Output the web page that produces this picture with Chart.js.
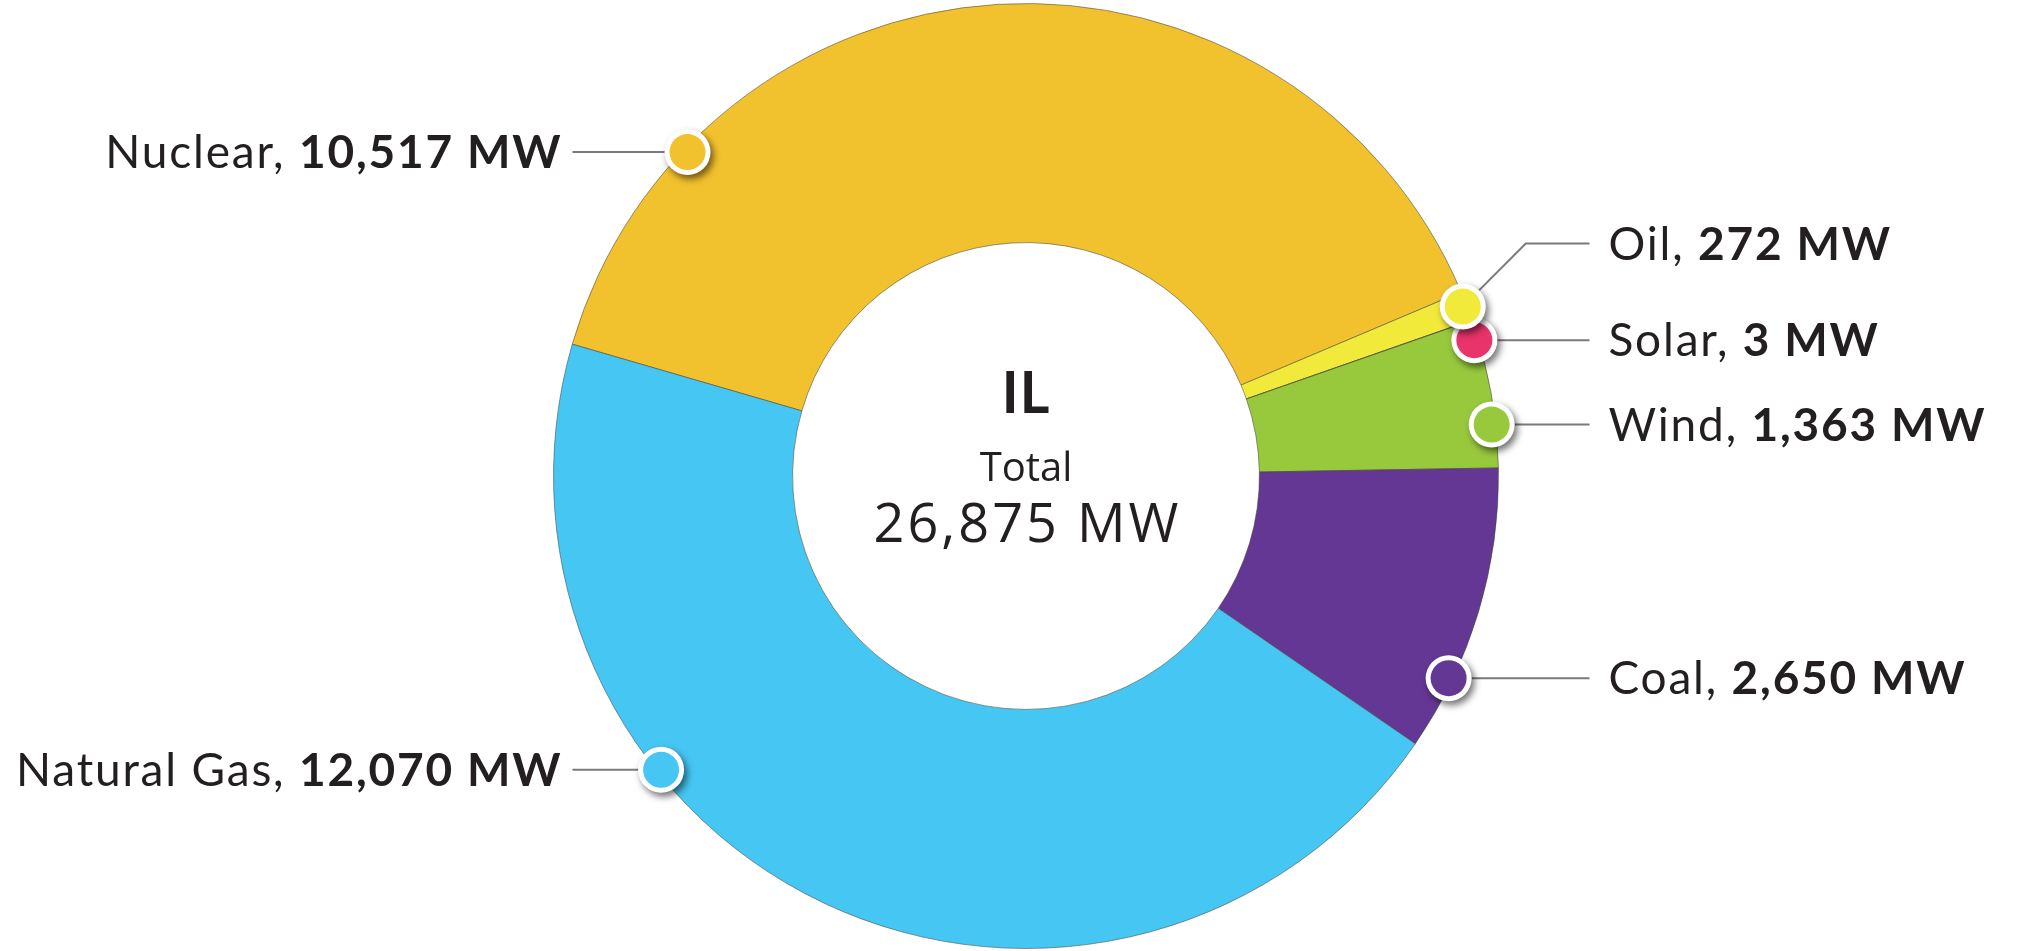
<!DOCTYPE html>
<html>
<head>
<meta charset="utf-8">
<title>IL generating capacity</title>
<script src="https://cdn.jsdelivr.net/npm/chart.js@4.4.1/dist/chart.umd.min.js"></script>
<style>
    html, body { margin: 0; padding: 0; background: #fff; }
    #wrap { width: 2018px; height: 951px; position: relative; }
</style>
</head>
<body>
<div id="wrap"><canvas id="capacityChart"></canvas></div>
<script>
// Data
const stateName = 'IL';
const categories = ['Nuclear', 'Oil', 'Solar', 'Wind', 'Coal', 'Natural Gas'];
const capacityMW = [10517, 272, 3, 1363, 2650, 12070];
const sliceColors = ['#F2C12E', '#F2EA3B', '#E8336B', '#98C93D', '#643794', '#46C6F2'];

const totalMW = capacityMW.reduce((a, b) => a + b, 0);
const fmt = n => n.toLocaleString('en-US');

const TEXT = '#231F20';
const LABEL_FONT = 'Lato';

// Callout markers, labels and leader lines
const calloutPlugin = {
    id: 'callouts',
    afterDatasetsDraw(chart, args, opts) {
        const ctx = chart.ctx;
        const arcs = chart.getDatasetMeta(0).data;
        const items = arcs.map((arc, i) => {
            const p = arc.getProps(['x', 'y', 'startAngle', 'endAngle', 'outerRadius'], true);
            const ang = (p.startAngle + p.endAngle) / 2 + opts.nudge[i] * Math.PI / 180;
            const r = p.outerRadius - opts.inset;
            const mx = p.x + Math.cos(ang) * r;
            const my = p.y + Math.sin(ang) * r;
            const right = Math.cos(ang) > 0;
            const ly = my + opts.lift[i];
            return { i, p, mx, my, ly, right };
        });

        // leader lines
        ctx.save();
        ctx.strokeStyle = '#7a7a7a';
        ctx.lineWidth = 2;
        items.forEach(it => {
            const { p, mx, my, ly, right } = it;
            ctx.beginPath();
            ctx.moveTo(mx, my);
            if (right) {
                const endX = p.x + p.outerRadius + opts.lineRight;
                if (ly !== my) ctx.lineTo(mx + Math.abs(ly - my), ly);
                ctx.lineTo(endX, ly);
            } else {
                const endX = p.x - p.outerRadius + opts.lineLeft;
                ctx.lineTo(endX, ly);
            }
            ctx.stroke();
        });
        ctx.restore();

        // markers (drawn last-to-first so earlier slices sit on top)
        items.slice().reverse().forEach(it => {
            ctx.save();
            ctx.shadowColor = 'rgba(0,0,0,0.55)';
            ctx.shadowBlur = 7;
            ctx.shadowOffsetX = 3;
            ctx.shadowOffsetY = 4;
            ctx.fillStyle = '#fff';
            ctx.beginPath();
            ctx.arc(it.mx, it.my, 23, 0, Math.PI * 2);
            ctx.fill();
            ctx.restore();
            ctx.save();
            ctx.fillStyle = sliceColors[it.i];
            ctx.beginPath();
            ctx.arc(it.mx, it.my, 18, 0, Math.PI * 2);
            ctx.fill();
            ctx.restore();
        });

        // labels: "Name, " regular + "value MW" bold
        ctx.save();
        ctx.fillStyle = TEXT;
        ctx.textBaseline = 'alphabetic';
        ctx.textAlign = 'left';
        ctx.letterSpacing = opts.tracking + 'px';
        const regFont = `400 ${opts.fontSize}px ${LABEL_FONT}`;
        const boldFont = `700 ${opts.fontSize}px ${LABEL_FONT}`;
        items.forEach(it => {
            const a = categories[it.i] + ', ';
            const b = fmt(capacityMW[it.i]) + ' MW';
            ctx.font = regFont;
            const wa = ctx.measureText(a).width;
            ctx.font = boldFont;
            const wb = ctx.measureText(b).width - opts.tracking;
            const base = it.ly + opts.capHalf;
            let x;
            if (it.right) {
                x = it.p.x + it.p.outerRadius + opts.textRight;
            } else {
                x = it.p.x - it.p.outerRadius + opts.textLeft - wa - wb;
            }
            ctx.font = regFont;
            ctx.fillText(a, x, base);
            ctx.font = boldFont;
            ctx.fillText(b, x + wa, base);
        });
        ctx.restore();
    },
    afterDraw(chart) {
        const ctx = chart.ctx;
        const arc = chart.getDatasetMeta(0).data[0];
        const cx = arc.x, cy = arc.y;
        ctx.save();
        ctx.fillStyle = TEXT;
        ctx.textAlign = 'center';
        ctx.textBaseline = 'alphabetic';
        ctx.font = `700 57px ${LABEL_FONT}`;
        ctx.letterSpacing = '1px';
        ctx.fillText(stateName, cx, cy - 63);
        ctx.letterSpacing = '0px';
        ctx.font = '400 40px "Open Sans"';
        ctx.fillText('Total', cx, cy + 5);
        ctx.letterSpacing = '3px';
        ctx.font = '400 54px "Open Sans"';
        ctx.fillText(fmt(totalMW) + ' MW', cx + 1.5, cy + 66);
        ctx.restore();
    }
};

const chart = new Chart(document.getElementById('capacityChart'), {
    type: 'doughnut',
    data: {
        labels: categories,
        datasets: [{
            data: capacityMW,
            backgroundColor: sliceColors,
            borderColor: 'rgba(70, 70, 60, 0.55)',
            borderWidth: 1,
            hoverOffset: 0
        }]
    },
    options: {
        responsive: true,
        maintainAspectRatio: false,
        animation: false,
        rotation: -73.8,
        cutout: '49.4%',
        layout: {
            padding: { left: 553, right: 519, top: 3, bottom: 2 }
        },
        plugins: {
            legend: { display: false },
            tooltip: { enabled: false },
            callouts: {
                nudge: [-42.9, -0.1, 2.4, 3.8, 8.8, 25.8],
                lift: [0, -63, 0, 0, 0, 0],
                inset: 4,
                lineRight: 91,
                textRight: 110,
                lineLeft: 19,
                textLeft: 7,
                fontSize: 46,
                tracking: 1.8,
                capHalf: 16
            }
        }
    },
    plugins: [calloutPlugin]
});
</script>
</body>
</html>
